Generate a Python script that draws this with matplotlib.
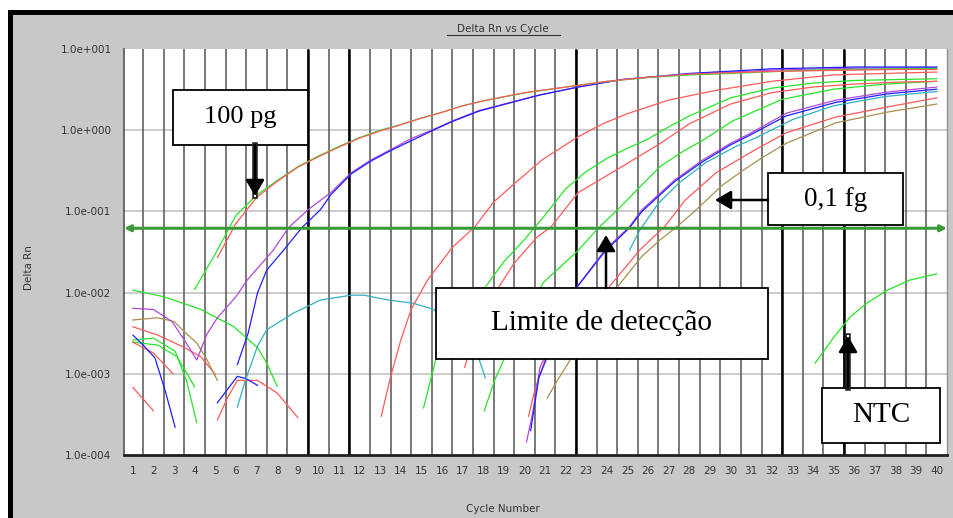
import numpy as np
import matplotlib
matplotlib.use("Agg")
import matplotlib.pyplot as plt
from matplotlib.patches import Rectangle, FancyArrowPatch
from matplotlib.lines import Line2D
from matplotlib.ticker import NullLocator

nan = np.nan

cycles = list(range(1, 41))
ytick_vals = [1e1, 1e0, 1e-1, 1e-2, 1e-3, 1e-4]
ytick_labels = ["1.0e+001", "1.0e+000", "1.0e-001", "1.0e-002", "1.0e-003", "1.0e-004"]
threshold = 0.062
heavy_lines = [9.5, 11.5, 22.5, 32.5, 35.5]

# 100 pg
g100_c = [4, 5, 6, 7, 8, 9, 10, 11, 12, 13, 14, 15, 16, 17, 18, 20, 22, 24, 26, 28, 30, 32, 34, 36, 38, 40]
g100_v = [0.011, 0.030, 0.089, 0.158, 0.24, 0.355, 0.48, 0.63, 0.81, 1.0, 1.17, 1.41, 1.66, 2.0, 2.29, 2.88,
          3.39, 3.98, 4.47, 4.79, 5.0, 5.25, 5.5, 5.6, 5.7, 5.75]
r100_c = [5.1, 6, 7, 8, 9, 10, 11, 12, 13, 14, 15, 16, 17, 18, 20, 22, 24, 26, 28, 30, 32, 34, 36, 38, 40]
r100_v = [0.027, 0.071, 0.148, 0.234, 0.35, 0.47, 0.62, 0.80, 0.98, 1.17, 1.41, 1.66, 2.0, 2.3, 2.9, 3.4,
          4.0, 4.5, 4.9, 5.1, 5.3, 5.4, 5.5, 5.6, 5.6]

# 10 pg
p10_c = [1, 2, 2.9, 3.5, 4.1, 4.6, 5.1, 6, 6.55, 7.8, 8.55, 9.5, 10.6, 11.6, 12.55, 13.5, 14.5, 15.5,
         16.5, 17.8, 20.7, 22.6, 24.7, 28, 32, 36, 40]
p10_v = [0.0064, 0.0062, 0.0044, 0.0026, 0.00148, 0.0031, 0.0049, 0.0089, 0.0143, 0.033, 0.063, 0.105,
         0.17, 0.30, 0.43, 0.575, 0.79, 1.0, 1.3, 1.75, 2.7, 3.4, 4.2, 4.9, 5.5, 5.8, 5.9]
b10_c = [6.07, 6.6, 7.05, 7.5, 8.3, 9.2, 10.1, 10.6, 11.6, 12.5, 13.5, 15.5, 16.5, 17.8, 20.7, 22.6, 24.7,
         28, 32, 36, 40]
b10_v = [0.0013, 0.0032, 0.01, 0.019, 0.033, 0.063, 0.105, 0.16, 0.29, 0.41, 0.56, 0.98, 1.28, 1.72, 2.7,
         3.4, 4.2, 5.0, 5.7, 6.0, 6.0]

# 1 pg
r1_c = [13.05, 13.5, 14, 14.5, 15.3, 16.5, 17.6, 18.5, 19.6, 20.85, 22.6, 23.8, 25, 27, 29.3, 32, 35, 40]
r1_v = [0.0003, 0.00091, 0.0026, 0.0062, 0.0143, 0.036, 0.065, 0.13, 0.23, 0.43, 0.83, 1.2, 1.6, 2.35,
        3.1, 4.0, 4.8, 5.2]

# 100 fg
g2_c = [15.1, 15.7, 17, 18.1, 19, 20, 21, 22, 23, 24, 25, 26, 27, 28, 30, 32, 34, 36, 38, 40]
g2_v = [0.00038, 0.0015, 0.005, 0.0117, 0.024, 0.045, 0.09, 0.19, 0.31, 0.45, 0.6, 0.78, 1.1, 1.5,
        2.5, 3.3, 3.8, 4.1, 4.2, 4.3]
r2_c = [17.1, 17.3, 18.75, 19.5, 20.6, 21.3, 22.6, 24.6, 26.6, 28, 30, 32, 34, 36, 38, 40]
r2_v = [0.0012, 0.0018, 0.0117, 0.023, 0.048, 0.065, 0.17, 0.34, 0.69, 1.2, 2.1, 2.9, 3.4, 3.7, 3.9, 4.0]

# 10 fg
g3_c = [18.05, 18.55, 19.05, 20.9, 22.6, 23.6, 24.6, 25.6, 26.6, 27.7, 28.65, 30.1, 32.5, 35, 37.5, 40]
g3_v = [0.00035, 0.00083, 0.0016, 0.0132, 0.033, 0.063, 0.11, 0.2, 0.36, 0.55, 0.75, 1.3, 2.4, 3.2, 3.7, 4.0]

# 1 fg
p1_c = [20.1, 20.4, 20.75, 22.55, 23.9, 25.1, 25.7, 27.3, 28.65, 30, 30.9, 32.7, 35.1, 37.6, 40]
p1_v = [0.000145, 0.00033, 0.0012, 0.0117, 0.0335, 0.065, 0.105, 0.245, 0.43, 0.69, 0.9, 1.62, 2.34,
        2.95, 3.4]
b1_c = [20.3, 20.7, 22.4, 23.9, 25.1, 25.7, 27.3, 28.65, 30, 30.9, 32.7, 35.1, 37.6, 40]
b1_v = [0.0002, 0.0009, 0.0105, 0.032, 0.063, 0.1, 0.235, 0.41, 0.66, 0.86, 1.5, 2.2, 2.8, 3.2]
c1_c = [25.1, 25.6, 26.5, 27.5, 28.8, 30.25, 31.2, 33, 35, 37.5, 40]
c1_v = [0.0335, 0.059, 0.126, 0.224, 0.40, 0.63, 0.80, 1.35, 2.0, 2.6, 3.0]

# 0,1 fg
r01_c = [20.2, 20.5, 21.0, 24.1, 25.6, 26.8, 27.8, 29.3, 31.2, 32.7, 35.1, 37.6, 40]
r01_v = [0.0003, 0.00063, 0.0015, 0.0117, 0.0335, 0.065, 0.138, 0.30, 0.575, 0.93, 1.45, 1.93, 2.5]
o01_c = [21.1, 21.6, 22.3, 24.5, 25.7, 26.6, 27.4, 28.15, 29.6, 30.6, 31.6, 32.7, 35.1, 37.6, 40]
o01_v = [0.0005, 0.00083, 0.0016, 0.0117, 0.028, 0.045, 0.065, 0.095, 0.21, 0.32, 0.47, 0.69, 1.23,
         1.67, 2.1]

# NTC
ntc_c = [34.1, 35, 35.8, 36.6, 37.6, 38.7, 40]
ntc_v = [0.00135, 0.0028, 0.005, 0.0074, 0.0107, 0.0143, 0.017]

# baseline noise
cy_lo_c = [6.07, 6.46, 7.05, 7.5, 8.8, 10.1, 11.6, 12.2, 13.4, 14.6, 15.6, 17.8, 18.1]
cy_lo_v = [0.00039, 0.00083, 0.0022, 0.0035, 0.0056, 0.0081, 0.0093, 0.0093, 0.0081, 0.0074, 0.0062,
           0.0015, 0.00089]
b_lo_c = [1, 1.5, 2.07, 2.56, 3.05, nan, 5.1, 6.07, 6.5, 7.05]
b_lo_v = [0.003, 0.00226, 0.00157, 0.00063, 0.00022, nan, 0.00044, 0.00093, 0.00087, 0.00072]
g_lo1_c = [1, 2.5, 4.3, 5.9, 7.05, 7.5, 8]
g_lo1_v = [0.0107, 0.0089, 0.0062, 0.0038, 0.0021, 0.00135, 0.0007]
g_lo2_c = [1, 2, 3.05, 3.6, 4.1]
g_lo2_v = [0.0026, 0.00275, 0.0019, 0.00083, 0.00025]
g_lo3_c = [1, 2.2, 3.15, 4.0]
g_lo3_v = [0.00245, 0.00226, 0.00162, 0.00069]
r_lo_c = [1, 2.2, 3.45, 4.3, 5.0, nan, 1, 2, 2.95, nan, 1, 2, nan, 5.1, 5.6, 6.07, 7.05, 8.0, 9.0]
r_lo_v = [0.0038, 0.003, 0.00214, 0.00162, 0.00098, nan, 0.00245, 0.0018, 0.001, nan, 0.00068, 0.00035,
          nan, 0.00027, 0.00051, 0.00083, 0.00083, 0.00058, 0.00029]
o_lo_c = [1, 2.2, 3.0, 3.55, 4.1, 4.6, 5.1]
o_lo_v = [0.0046, 0.0049, 0.0044, 0.0032, 0.0024, 0.00148, 0.00083]

red = "#ff5a5a"
green = "#28e428"
blue = "#2020ff"
purple = "#b048d8"
cyan = "#30b0c0"
olive = "#a89050"

curves = [
    (g_lo1_c, g_lo1_v, green), (g_lo2_c, g_lo2_v, green), (g_lo3_c, g_lo3_v, green),
    (r_lo_c, r_lo_v, red), (o_lo_c, o_lo_v, olive), (b_lo_c, b_lo_v, blue), (cy_lo_c, cy_lo_v, cyan),
    (r01_c, r01_v, red), (o01_c, o01_v, olive), (c1_c, c1_v, cyan), (p1_c, p1_v, purple), (b1_c, b1_v, blue),
    (g3_c, g3_v, green), (r2_c, r2_v, red), (g2_c, g2_v, green), (r1_c, r1_v, red),
    (p10_c, p10_v, purple), (b10_c, b10_v, blue), (g100_c, g100_v, green), (r100_c, r100_v, red),
    (ntc_c, ntc_v, green),
]

W, H = 954, 518


def fx(x):
    return x / W


def fy(y):
    return 1 - y / H


fig = plt.figure(figsize=(W / 100, H / 100), dpi=100)
fig.patch.set_facecolor("white")

# grey panel with black frame
fig.add_artist(Rectangle((fx(13), 0), 1 - fx(13), fy(15), transform=fig.transFigure,
                         facecolor="#c8c8c8", edgecolor="none", zorder=-10))
fig.add_artist(Rectangle((fx(8), fy(15)), 1 - fx(8), fy(10) - fy(15), transform=fig.transFigure,
                         facecolor="black", edgecolor="none", zorder=-9))
fig.add_artist(Rectangle((fx(8), 0), fx(13) - fx(8), fy(10), transform=fig.transFigure,
                         facecolor="black", edgecolor="none", zorder=-9))

ax = fig.add_axes([fx(124), fy(455), fx(947) - fx(124), fy(49) - fy(455)])
ax.set_facecolor("white")
ax.set_yscale("log")
ax.set_ylim(1e-4, 1e1)
ax.set_xlim(0.57, 40.5)

ax.vlines([c + 0.5 for c in cycles[:-1]], 1e-4, 1e1, colors="#555555", lw=1.1, zorder=1)
ax.vlines(heavy_lines, 1e-4, 1e1, colors="black", lw=1.8, zorder=1.2)
ax.hlines(ytick_vals[1:-1], 0.57, 40.5, colors="#c4c4c4", lw=1.2, zorder=0.9)

for c, v, col in curves:
    ax.plot(c, v, color=col, lw=0.9, zorder=2)

ax.annotate("", xy=(0.0, threshold), xytext=(1.0, threshold), xycoords=("axes fraction", "data"),
            textcoords=("axes fraction", "data"),
            arrowprops=dict(arrowstyle="<|-|>", color="#3a9a3a", lw=2.2, mutation_scale=9,
                            shrinkA=0, shrinkB=0), zorder=3)

ax.set_xticks(cycles)
ax.set_xticklabels([str(c) for c in cycles])
ax.set_yticks(ytick_vals)
ax.set_yticklabels(ytick_labels)
ax.yaxis.set_minor_locator(NullLocator())
ax.tick_params(length=0, labelsize=7.5, labelcolor="#333333")
ax.tick_params(axis="x", pad=8)
ax.tick_params(axis="y", pad=9)

ax.spines["top"].set_visible(False)
ax.spines["left"].set_color("#555555")
ax.spines["left"].set_linewidth(1.2)
ax.spines["bottom"].set_color("#202020")
ax.spines["bottom"].set_linewidth(2)
ax.spines["right"].set_color("#909090")
ax.spines["right"].set_linewidth(1)

fig.text(fx(503), fy(29), "Delta Rn vs Cycle", fontsize=7.5, color="#333333", ha="center", va="center")
fig.add_artist(Line2D([fx(447), fx(560)], [fy(35), fy(35)], transform=fig.transFigure,
                      color="#333333", lw=0.8))
fig.text(fx(29), fy(268), "Delta Rn", fontsize=7.5, color="#333333", rotation=90, ha="center", va="center")
fig.text(fx(503), fy(509), "Cycle Number", fontsize=7.5, color="#333333", ha="center", va="center")


def label_box(x0, y0, x1, y1, text, size):
    fig.add_artist(Rectangle((fx(x0), fy(y1)), fx(x1) - fx(x0), fy(y0) - fy(y1), transform=fig.transFigure,
                             facecolor="white", edgecolor="black", lw=1.3, zorder=5))
    fig.text(fx((x0 + x1) / 2), fy((y0 + y1) / 2), text, fontsize=size, family="Liberation Serif",
             ha="center", va="center", zorder=6)


def arrow(x0, y0, x1, y1, double=False):
    if double:
        fig.add_artist(Line2D([fx(x0), fx(x1)], [fy(y0), fy(y1)], transform=fig.transFigure,
                              color="#222222", lw=4, zorder=6))
        fig.add_artist(Line2D([fx(x0), fx(x1)], [fy(y0), fy(y1)], transform=fig.transFigure,
                              color="white", lw=1.5, zorder=6.1))
    fig.add_artist(FancyArrowPatch((fx(x0), fy(y0)), (fx(x1), fy(y1)), transform=fig.transFigure,
                                   arrowstyle="-|>,head_length=0.65,head_width=0.38", mutation_scale=15,
                                   lw=1.8, color="black", shrinkA=0, shrinkB=0, zorder=6.2))


label_box(173, 90, 308, 145, "100 pg", 19)
arrow(255, 145, 255, 196, double=True)
label_box(768, 173, 903, 225, "0,1 fg", 19.5)
arrow(768, 200, 715, 200)
label_box(436, 288, 768, 359, "Limite de detecção", 21)
arrow(606, 288, 606, 235)
label_box(822, 388, 940, 443, "NTC", 21)
arrow(848, 388, 848, 336, double=True)

fig.savefig("out.png", dpi=100)
